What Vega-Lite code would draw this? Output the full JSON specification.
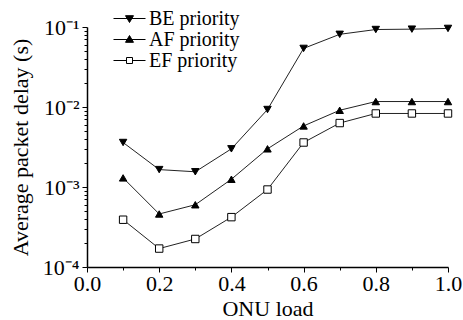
{
  "$schema": "https://vega.github.io/schema/vega-lite/v6.json",
  "autosize": {"type": "none"},
  "width": 361,
  "height": 240,
  "padding": {"left": 87, "top": 27, "right": 15, "bottom": 53},
  "background": "white",
  "config": {
    "view": {"stroke": null},
    "axis": {
      "grid": false,
      "domainColor": "black",
      "domainWidth": 1.5,
      "tickColor": "black",
      "tickWidth": 1,
      "labelOverlap": false,
      "labelBound": false,
      "labelFlush": false
    }
  },
  "data": {
    "values": [
      {"load": 0.1, "delay": 0.0036, "series": "BE priority"},
      {"load": 0.2, "delay": 0.00165, "series": "BE priority"},
      {"load": 0.3, "delay": 0.00155, "series": "BE priority"},
      {"load": 0.4, "delay": 0.0030, "series": "BE priority"},
      {"load": 0.5, "delay": 0.0093, "series": "BE priority"},
      {"load": 0.6, "delay": 0.054, "series": "BE priority"},
      {"load": 0.7, "delay": 0.081, "series": "BE priority"},
      {"load": 0.8, "delay": 0.093, "series": "BE priority"},
      {"load": 0.9, "delay": 0.094, "series": "BE priority"},
      {"load": 1.0, "delay": 0.096, "series": "BE priority"},
      {"load": 0.1, "delay": 0.0013, "series": "AF priority"},
      {"load": 0.2, "delay": 0.00046, "series": "AF priority"},
      {"load": 0.3, "delay": 0.0006, "series": "AF priority"},
      {"load": 0.4, "delay": 0.00125, "series": "AF priority"},
      {"load": 0.5, "delay": 0.0030, "series": "AF priority"},
      {"load": 0.6, "delay": 0.0058, "series": "AF priority"},
      {"load": 0.7, "delay": 0.0091, "series": "AF priority"},
      {"load": 0.8, "delay": 0.0117, "series": "AF priority"},
      {"load": 0.9, "delay": 0.0117, "series": "AF priority"},
      {"load": 1.0, "delay": 0.0117, "series": "AF priority"},
      {"load": 0.1, "delay": 0.00039, "series": "EF priority"},
      {"load": 0.2, "delay": 0.00017, "series": "EF priority"},
      {"load": 0.3, "delay": 0.000224, "series": "EF priority"},
      {"load": 0.4, "delay": 0.00042, "series": "EF priority"},
      {"load": 0.5, "delay": 0.00093, "series": "EF priority"},
      {"load": 0.6, "delay": 0.0036, "series": "EF priority"},
      {"load": 0.7, "delay": 0.0063, "series": "EF priority"},
      {"load": 0.8, "delay": 0.0083, "series": "EF priority"},
      {"load": 0.9, "delay": 0.0083, "series": "EF priority"},
      {"load": 1.0, "delay": 0.0083, "series": "EF priority"}
    ]
  },
  "encoding": {
    "x": {
      "field": "load",
      "type": "quantitative",
      "scale": {"domain": [0, 1], "nice": false, "zero": false},
      "axis": {
        "title": "ONU load",
        "values": [0, 0.1, 0.2, 0.3, 0.4, 0.5, 0.6, 0.7, 0.8, 0.9, 1.0],
        "labelExpr": "round(datum.value*10) % 2 == 0 ? format(datum.value, '.1f') : ''",
        "tickSize": {"condition": {"test": "round(datum.value*10) % 2 == 0", "value": 5}, "value": 3},
        "labelFont": "Liberation Serif",
        "labelFontSize": 22,
        "labelColor": "black",
        "titleFont": "Liberation Serif, serif",
        "titleFontSize": 22,
        "titleFontWeight": "normal",
        "titleColor": "black",
        "labelPadding": 1,
        "titlePadding": 4
      }
    },
    "y": {
      "field": "delay",
      "type": "quantitative",
      "scale": {"type": "log", "domain": [0.0001, 0.1], "nice": false},
      "axis": {
        "title": "Average packet delay (s)",
        "values": [0.0001, 0.0002, 0.0003, 0.0004, 0.0005, 0.0006, 0.0007, 0.0008, 0.0009, 0.001, 0.002, 0.003, 0.004, 0.005, 0.006, 0.007, 0.008, 0.009, 0.01, 0.02, 0.03, 0.04, 0.05, 0.06, 0.07, 0.08, 0.09, 0.1],
        "labelExpr": "abs(log(datum.value)/LN10 - round(log(datum.value)/LN10)) < 0.01 ? '10' + (round(log(datum.value)/LN10) == -1 ? '⁻¹' : round(log(datum.value)/LN10) == -2 ? '⁻²' : round(log(datum.value)/LN10) == -3 ? '⁻³' : '⁻⁴') : ''",
        "tickSize": {"condition": {"test": "abs(log(datum.value)/LN10 - round(log(datum.value)/LN10)) < 0.01", "value": 5}, "value": 3},
        "labelFont": "Liberation Serif",
        "labelFontSize": 22,
        "labelColor": "black",
        "titleFont": "Liberation Serif, serif",
        "titleFontSize": 22,
        "titleFontWeight": "normal",
        "titleColor": "black",
        "labelBaseline": "middle",
        "labelPadding": 3,
        "titlePadding": 10
      }
    }
  },
  "layer": [
    {
      "mark": {"type": "line", "color": "#222222", "strokeWidth": 1},
      "encoding": {"detail": {"field": "series"}}
    },
    {
      "mark": {"type": "point", "filled": true, "stroke": "black", "strokeWidth": 1, "opacity": 1, "size": 55},
      "encoding": {
        "shape": {
          "field": "series",
          "type": "nominal",
          "scale": {"domain": ["BE priority", "AF priority", "EF priority"], "range": ["triangle-down", "triangle-up", "square"]},
          "legend": null
        },
        "fill": {
          "field": "series",
          "type": "nominal",
          "scale": {"domain": ["BE priority", "AF priority", "EF priority"], "range": ["black", "black", "white"]},
          "legend": null
        }
      }
    },
    {
      "mark": {"type": "point", "filled": true, "opacity": 0, "strokeWidth": 1},
      "encoding": {
        "shape": {
          "field": "series",
          "type": "nominal",
          "scale": {
            "domain": ["BE priority", "AF priority", "EF priority"],
            "range": [
              "M-1.6,0H1.6M-0.4,-0.28H0.4L0,0.4Z",
              "M-1.6,0H1.6M-0.4,0.28H0.4L0,-0.4Z",
              "M-1.6,0H-0.3M0.3,0H1.6M-0.3,-0.3H0.3V0.3H-0.3Z"
            ]
          },
          "legend": {
            "title": null,
            "orient": "none",
            "legendX": 32,
            "legendY": -19,
            "padding": 0,
            "symbolSize": 400,
            "symbolStrokeWidth": 1,
            "symbolOpacity": 1,
            "labelFont": "Liberation Serif",
            "labelFontSize": 20,
            "labelColor": "black",
            "labelOffset": 9,
            "rowPadding": -8
          }
        },
        "fill": {
          "field": "series",
          "type": "nominal",
          "scale": {"domain": ["BE priority", "AF priority", "EF priority"], "range": ["black", "black", "white"]},
          "legend": {
            "title": null,
            "orient": "none",
            "legendX": 32,
            "legendY": -19,
            "padding": 0,
            "symbolSize": 400,
            "symbolStrokeWidth": 1,
            "symbolOpacity": 1,
            "labelFont": "Liberation Serif",
            "labelFontSize": 20,
            "labelColor": "black",
            "labelOffset": 9,
            "rowPadding": -8
          }
        },
        "stroke": {
          "field": "series",
          "type": "nominal",
          "scale": {"domain": ["BE priority", "AF priority", "EF priority"], "range": ["black", "black", "black"]},
          "legend": {
            "title": null,
            "orient": "none",
            "legendX": 32,
            "legendY": -19,
            "padding": 0,
            "symbolSize": 400,
            "symbolStrokeWidth": 1,
            "symbolOpacity": 1,
            "labelFont": "Liberation Serif",
            "labelFontSize": 20,
            "labelColor": "black",
            "labelOffset": 9,
            "rowPadding": -8
          }
        }
      }
    }
  ],
  "resolve": {"scale": {"shape": "independent", "fill": "independent", "stroke": "independent"}}
}
